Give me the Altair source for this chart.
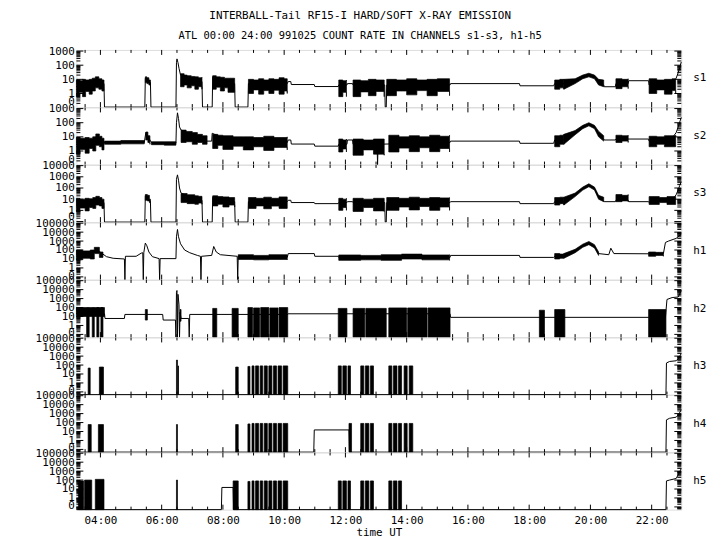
import altair as alt
import pandas as pd

W, H = 610, 57.6
FONT = "DejaVu Sans Mono"

TITLE = "INTERBALL-Tail RF15-I HARD/SOFT X-RAY EMISSION"
SUBTITLE = "ATL 00:00 24:00 991025  COUNT RATE IN CHANNELS s1-s3, h1-h5"
X_DOMAIN = ("03:13", "22:58")
X_LABEL_HOURS = [4, 6, 8, 10, 12, 14, 16, 18, 20, 22]
X_TICK_HOURS = [3.5 + 0.5 * i for i in range(39)]

# ---------------- s1 ----------------
S1_TRACE = [
    ("03:13", 3), ("03:25", 3), ("03:35", 4), ("03:45", 6), ("03:52", 9), ("03:58", 7), ("04:07", 5), ("04:08", 0),
    ("05:27", 0), ("05:28", 12), ("05:31", 12), ("05:35", 8), ("05:38", 6), ("05:39", 0),
    ("06:28", 0), ("06:29", 150), ("06:30", 280), ("06:32", 150), ("06:34", 60), ("06:37", 20), ("06:45", 12),
    ("07:00", 9), ("07:19", 7), ("07:20", 0),
    ("07:39", 0), ("07:40", 15), ("07:50", 8), ("08:10", 6), ("08:23", 5), ("08:24", 0),
    ("08:49", 0), ("08:50", 5), ("09:30", 4), ("10:06", 5), ("10:08", 7), ("10:13", 7), ("10:14", 4.3),
    ("10:59", 4.3), ("11:00", 3.1), ("11:46", 3.1), ("11:47", 4), ("12:03", 4), ("12:04", 5), ("12:14", 5),
    ("12:15", 4), ("13:17", 4), ("13:18", 0), ("13:20", 0), ("13:21", 4), ("15:25", 4), ("15:26", 5),
    ("17:41", 5), ("17:42", 3.5), ("18:48", 3.5), ("18:50", 5), ("19:08", 5), ("19:30", 8), ("19:45", 15),
    ("19:57", 20), ("20:08", 15), ("20:16", 7), ("20:26", 4), ("20:27", 3), ("20:49", 3), ("20:50", 5),
    ("21:14", 5), ("21:15", 8), ("21:54", 8), ("21:55", 4), ("22:40", 5), ("22:48", 12), ("22:52", 30),
    ("22:55", 70), ("22:58", 170),
]
S1_BANDS = [
    [("03:13", 0.6, 9), ("03:19", 1.2, 8), ("03:25", 0.6, 10), ("03:31", 1.4, 9), ("03:38", 0.9, 10), ("03:44", 1.5, 12),
     ("03:50", 2.5, 15), ("03:57", 2, 11), ("04:03", 1.5, 9), ("04:07", 1.5, 9)],
    [("05:28", 6, 15), ("05:31", 5, 13), ("05:35", 4, 9), ("05:38", 4, 9)],
    [("06:37", 3, 25), ("06:44", 4, 20), ("06:50", 2.5, 18), ("06:58", 3.5, 16), ("07:05", 2, 15), ("07:12", 3, 13), ("07:19", 2, 14)],
    [("07:40", 2, 18), ("07:47", 2.8, 15), ("07:55", 1.5, 14), ("08:03", 2.5, 12), ("08:10", 1.2, 12), ("08:23", 1.2, 12)],
    [("08:50", 1, 10), ("09:00", 1.8, 9), ("09:10", 0.9, 11), ("09:20", 1.6, 9), ("09:30", 1, 11), ("09:40", 1.7, 10),
     ("09:50", 0.9, 13), ("10:00", 1.5, 11), ("10:06", 1, 11)],
    [("11:47", 0.6, 9), ("11:55", 1.2, 8), ("12:02", 0.6, 9)],
    [("12:15", 0.6, 9), ("12:30", 1.3, 8), ("12:45", 0.7, 10), ("13:00", 1.4, 9), ("13:16", 0.6, 9)],
    [("13:21", 0.7, 10), ("13:40", 1.5, 9), ("14:00", 0.8, 11), ("14:20", 1.6, 9), ("14:40", 0.7, 10), ("15:00", 1.4, 11),
     ("15:24", 0.7, 10)],
    [("18:50", 2, 9), ("19:00", 2.5, 10), ("19:08", 2, 10)],
    [("20:50", 2.2, 11), ("21:02", 3, 10), ("21:14", 2.2, 11)],
    [("21:55", 1, 11), ("22:10", 1.8, 9), ("22:25", 0.9, 10), ("22:40", 1.6, 11), ("22:47", 1, 11)],
]
S1_HUMP = [("19:08", 2, 10), ("19:30", 5, 11), ("19:45", 11, 20), ("19:57", 15, 27), ("20:08", 11, 20), ("20:16", 4, 10),
           ("20:26", 3, 9)]

# ---------------- s2 ----------------
S2_TRACE = [
    ("03:13", 3), ("03:30", 3), ("03:45", 5), ("03:53", 12), ("04:00", 6), ("04:07", 4), ("04:30", 4), ("05:00", 4.5),
    ("05:26", 4), ("05:29", 20), ("05:32", 14), ("05:37", 6), ("05:40", 4), ("06:00", 3.5), ("06:28", 3.5),
    ("06:29", 100), ("06:31", 500), ("06:33", 200), ("06:35", 50), ("06:38", 30), ("07:00", 15), ("07:20", 8),
    ("07:29", 5), ("07:38", 5), ("07:39", 18), ("08:00", 8), ("08:24", 5), ("08:49", 4), ("10:06", 4), ("10:08", 6),
    ("10:13", 6), ("10:14", 3.1), ("10:59", 3.1), ("11:00", 2.2), ("11:46", 2.2), ("11:47", 3), ("12:03", 3),
    ("12:04", 6), ("12:14", 6), ("12:15", 3), ("13:02", 3), ("13:03", 0), ("13:04", 3), ("15:25", 4), ("15:26", 5),
    ("17:41", 5), ("17:42", 3.5), ("18:48", 3.5), ("18:50", 6), ("19:08", 6), ("19:30", 20), ("19:45", 50),
    ("19:57", 80), ("20:08", 50), ("20:16", 15), ("20:26", 7), ("20:27", 6), ("20:49", 6), ("20:50", 7),
    ("21:54", 7), ("21:55", 5), ("22:40", 8), ("22:48", 20), ("22:52", 50), ("22:55", 110), ("22:58", 240),
]
S2_BANDS = [
    [("03:13", 0.6, 9), ("03:20", 1.3, 8), ("03:30", 0.7, 9), ("03:38", 1.5, 8), ("03:45", 1, 10), ("03:51", 2.5, 16),
     ("03:58", 2, 11), ("04:03", 1.2, 8), ("04:07", 1.2, 8)],
    [("04:08", 3, 5), ("04:40", 3.2, 5.5), ("05:26", 3.2, 5)],
    [("05:29", 6, 22), ("05:33", 4, 12), ("05:37", 3, 8)],
    [("05:40", 2.8, 4.5), ("06:05", 2.6, 4.5), ("06:28", 2.8, 4.5)],
    [("06:38", 4, 30), ("06:48", 4.5, 24), ("07:00", 3, 20), ("07:10", 4, 15), ("07:20", 3, 12), ("07:29", 3, 8)],
    [("07:40", 1.5, 15), ("07:50", 2.5, 13), ("08:00", 1.3, 12), ("08:20", 2.2, 10), ("08:40", 1.2, 10), ("09:00", 2, 9),
     ("09:20", 1.1, 11), ("09:40", 1.8, 9), ("10:06", 1.2, 10)],
    [("11:47", 0.85, 7), ("11:55", 1.4, 6), ("12:02", 0.85, 7)],
    [("12:15", 0.5, 7), ("12:35", 1.2, 6), ("12:55", 0.6, 7), ("13:16", 0.5, 7)],
    [("13:25", 0.85, 13), ("13:45", 1.6, 10), ("14:05", 0.9, 12), ("14:25", 1.7, 10), ("14:45", 0.9, 13), ("15:05", 1.5, 11),
     ("15:24", 0.85, 13)],
    [("18:50", 2, 12), ("19:00", 3, 13), ("19:08", 3, 15)],
    [("20:50", 4, 13), ("21:02", 5, 12), ("21:14", 4, 13)],
    [("21:55", 2, 11), ("22:10", 3, 10), ("22:25", 2, 12), ("22:47", 2, 13)],
]
S2_HUMP = [("19:08", 3, 15), ("19:30", 14, 28), ("19:45", 38, 65), ("19:57", 60, 100), ("20:08", 38, 65), ("20:16", 10, 25),
           ("20:26", 5, 12)]

# ---------------- s3 ----------------
S3_TRACE = [
    ("03:13", 3), ("03:30", 3), ("03:45", 6), ("03:52", 12), ("04:00", 7), ("04:07", 5), ("04:08", 0),
    ("05:27", 0), ("05:28", 20), ("05:31", 18), ("05:35", 10), ("05:38", 6), ("05:39", 0),
    ("06:28", 0), ("06:29", 600), ("06:31", 1500), ("06:33", 500), ("06:35", 100), ("06:38", 35), ("06:50", 20),
    ("07:05", 12), ("07:19", 8), ("07:20", 0), ("07:39", 0), ("07:40", 15), ("08:00", 8), ("08:23", 6), ("08:24", 0),
    ("08:49", 0), ("08:50", 6), ("10:06", 6), ("10:08", 8), ("10:13", 8), ("10:14", 5), ("10:59", 5), ("11:00", 4),
    ("11:46", 4), ("11:47", 5), ("12:03", 5), ("12:04", 6), ("12:14", 6), ("12:15", 5), ("13:17", 5), ("13:18", 0),
    ("13:20", 0), ("13:21", 5), ("15:25", 5), ("15:26", 6), ("17:41", 6), ("17:42", 4), ("18:48", 4), ("18:50", 6),
    ("19:08", 6), ("19:30", 25), ("19:45", 90), ("19:57", 180), ("20:08", 90), ("20:16", 15), ("20:26", 7),
    ("20:27", 6), ("20:49", 6), ("20:50", 8), ("21:14", 8), ("21:15", 6), ("21:54", 6), ("21:55", 5), ("22:40", 8),
    ("22:48", 25), ("22:52", 70), ("22:55", 170), ("22:58", 370),
]
S3_BANDS = [
    [("03:13", 0.8, 12), ("03:20", 1.6, 10), ("03:30", 0.9, 12), ("03:38", 1.8, 11), ("03:45", 1.5, 14), ("03:51", 3, 18),
     ("03:58", 2.5, 14), ("04:03", 1.5, 10), ("04:07", 1.5, 10)],
    [("05:28", 8, 26), ("05:32", 7, 22), ("05:36", 5, 10), ("05:38", 5, 10)],
    [("06:38", 5, 32), ("06:50", 4, 25), ("07:05", 3.5, 20), ("07:12", 4.5, 18), ("07:19", 3.5, 17)],
    [("07:40", 2.5, 20), ("07:50", 3.5, 17), ("08:00", 2, 16), ("08:12", 3, 14), ("08:23", 2, 14)],
    [("08:50", 1.5, 14), ("09:05", 2.5, 12), ("09:20", 1.4, 15), ("09:35", 2.4, 12), ("09:50", 1.5, 16), ("10:06", 1.5, 14)],
    [("11:47", 1, 12), ("11:55", 1.8, 10), ("12:02", 1, 12)],
    [("12:15", 0.8, 12), ("12:35", 1.8, 10), ("12:55", 0.9, 12), ("13:16", 0.8, 12)],
    [("13:21", 1, 14), ("13:45", 2, 12), ("14:05", 1.1, 15), ("14:25", 2.2, 12), ("14:45", 1, 14), ("15:05", 2, 13),
     ("15:24", 1, 14)],
    [("18:50", 3, 14), ("19:00", 4, 15), ("19:08", 3, 15)],
    [("20:50", 6, 26), ("21:02", 7, 22), ("21:14", 6, 26)],
    [("21:55", 3.4, 17), ("22:15", 5, 14), ("22:30", 3.4, 17), ("22:47", 3.4, 17)],
]
S3_HUMP = [("19:08", 3, 15), ("19:30", 17, 35), ("19:45", 65, 120), ("19:57", 130, 240), ("20:08", 65, 120),
           ("20:16", 10, 22), ("20:26", 6, 15)]

# ---------------- h1 ----------------
H1_TRACE = [
    ("03:13", 30), ("03:20", 50), ("03:30", 30), ("03:40", 40), ("03:48", 80), ("03:53", 150), ("03:58", 70),
    ("04:05", 35), ("04:12", 18), ("04:25", 12), ("04:47", 10), ("04:48", 0), ("04:49", 20), ("05:10", 20),
    ("05:20", 45), ("05:23", 50), ("05:24", 0), ("05:25", 50), ("05:28", 600), ("05:31", 300), ("05:35", 60),
    ("05:42", 18), ("05:55", 11), ("05:56", 0), ("05:57", 11), ("06:28", 11), ("06:29", 3000), ("06:31", 20000),
    ("06:33", 3000), ("06:37", 500), ("06:45", 100), ("06:55", 50), ("07:10", 25), ("07:16", 20), ("07:17", 0),
    ("07:18", 20), ("07:38", 25), ("07:42", 250), ("07:47", 60), ("07:55", 30), ("08:28", 20), ("08:29", 0),
    ("08:30", 20), ("09:00", 15), ("10:06", 15), ("10:08", 40), ("10:59", 40), ("11:00", 20), ("11:46", 20),
    ("11:47", 15), ("13:00", 15), ("14:00", 20), ("15:25", 15), ("15:26", 25), ("17:41", 25), ("17:42", 15),
    ("18:48", 15), ("18:50", 20), ("19:08", 20), ("19:30", 80), ("19:45", 300), ("19:57", 600), ("20:08", 250),
    ("20:16", 40), ("20:36", 30), ("20:40", 160), ("20:46", 40), ("21:54", 38), ("22:23", 40), ("22:27", 700),
    ("22:33", 1000), ("22:48", 2000), ("22:58", 6000),
]
H1_BANDS = [
    [("03:13", 8, 100), ("03:25", 12, 80), ("03:40", 10, 100), ("03:48", 40, 200), ("03:58", 15, 60), ("04:05", 15, 60)],
    [("08:30", 9, 30), ("09:00", 8, 25), ("09:30", 9, 30), ("10:06", 8, 30)],
    [("11:47", 7, 28), ("12:30", 8, 25), ("13:10", 7, 30), ("13:50", 10, 35), ("14:30", 8, 28), ("15:24", 7, 30)],
    [("18:50", 10, 40), ("19:00", 12, 35), ("19:08", 12, 40)],
    [("21:54", 20, 60), ("22:08", 25, 55), ("22:23", 20, 60)],
]
H1_HUMP = [("19:08", 12, 40), ("19:30", 50, 120), ("19:45", 200, 450), ("19:57", 400, 900), ("20:08", 170, 400),
           ("20:16", 25, 60)]

# ---------------- h2 ----------------
H2_TRACE = [
    ("03:13", 20), ("04:08", 20), ("04:09", 6), ("04:47", 6), ("04:48", 17), ("06:02", 17), ("06:03", 4),
    ("06:27", 4), ("06:28", 0), ("06:29", 5000), ("06:30", 8000), ("06:31", 0), ("06:32", 3000), ("06:34", 200),
    ("06:35", 0), ("06:36", 30), ("06:38", 6), ("06:53", 6), ("06:54", 0), ("06:55", 17), ("10:07", 17),
    ("10:08", 20), ("15:25", 20), ("15:26", 8), ("21:54", 8), ("22:27", 8), ("22:30", 800), ("22:40", 1300),
    ("22:52", 1500), ("22:58", 8000),
]
H2_BARS = [
    ("03:13", "04:08", 10, 100),
    ("03:33", "03:38", 0, 90), ("03:44", "03:48", 0, 90), ("03:53", "03:57", 0, 100), ("04:01", "04:05", 0, 100),
    ("05:28", "05:32", 4, 60), ("06:36", "06:38", 3, 60),
    ("07:40", "07:48", 0, 80), ("08:18", "08:30", 0, 80),
    ("08:49", "08:58", 0, 100), ("09:00", "09:12", 0, 90), ("09:14", "09:30", 0, 100), ("09:32", "09:48", 0, 90),
    ("09:50", "10:07", 0, 100),
    ("11:46", "12:03", 0, 80), ("12:15", "12:38", 0, 80), ("12:40", "13:20", 0, 80),
    ("13:25", "14:00", 0, 90), ("14:02", "14:40", 0, 90), ("14:42", "15:25", 0, 90),
    ("18:20", "18:30", 0, 50), ("18:50", "19:10", 0, 60), ("21:54", "22:28", 0, 60),
]

# ---------------- h3 ----------------
H3_TRACE = [("03:13", 0), ("22:28", 0), ("22:29", 170), ("22:35", 250), ("22:48", 300), ("22:53", 600), ("22:58", 2000)]
H3_BARS = [
    ("03:36", "03:40", 0, 46), ("03:58", "04:06", 0, 60), ("06:29", "06:31", 0, 360), ("06:32", "06:33", 0, 80),
    ("08:25", "08:30", 0, 60),
    ("08:49", "08:53", 0, 70), ("08:57", "09:01", 0, 80), ("09:04", "09:10", 0, 80), ("09:13", "09:18", 0, 80),
    ("09:21", "09:27", 0, 80), ("09:30", "09:36", 0, 80), ("09:39", "09:45", 0, 80), ("09:48", "09:55", 0, 80),
    ("09:58", "10:07", 0, 80),
    ("11:46", "11:52", 0, 80), ("11:55", "12:02", 0, 80), ("12:05", "12:10", 0, 80),
    ("12:30", "12:36", 0, 80), ("12:39", "12:46", 0, 80), ("12:49", "12:55", 0, 80),
    ("13:25", "13:31", 0, 80), ("13:34", "13:41", 0, 80), ("13:44", "13:50", 0, 80),
    ("13:55", "14:01", 0, 80), ("14:05", "14:12", 0, 80),
]

# ---------------- h4 ----------------
H4_TRACE = [("03:13", 0), ("10:58", 0), ("10:59", 15), ("12:07", 15), ("12:08", 0), ("22:28", 0), ("22:29", 200),
            ("22:35", 300), ("22:48", 400), ("22:53", 800), ("22:58", 2800)]
H4_BARS = [
    ("03:36", "03:42", 0, 60), ("03:56", "04:06", 0, 60), ("06:29", "06:31", 0, 60),
    ("08:25", "08:30", 0, 60),
    ("08:49", "08:53", 0, 70), ("08:57", "09:01", 0, 80), ("09:04", "09:10", 0, 80), ("09:13", "09:18", 0, 80),
    ("09:21", "09:27", 0, 80), ("09:30", "09:36", 0, 80), ("09:39", "09:45", 0, 80), ("09:48", "09:55", 0, 80),
    ("09:58", "10:07", 0, 80),
    ("12:07", "12:12", 0, 80),
    ("12:30", "12:36", 0, 80), ("12:39", "12:46", 0, 80), ("12:49", "12:55", 0, 80),
    ("13:25", "13:31", 0, 80), ("13:34", "13:41", 0, 80), ("13:44", "13:50", 0, 80),
    ("13:55", "14:01", 0, 80), ("14:05", "14:12", 0, 80),
]

# ---------------- h5 ----------------
H5_TRACE = [("03:13", 0), ("07:57", 0), ("07:58", 15), ("08:20", 15), ("08:21", 0), ("22:28", 0), ("22:29", 80),
            ("22:35", 100), ("22:48", 150), ("22:53", 500), ("22:58", 2000)]
H5_BARS = [
    ("03:17", "03:27", 0, 80), ("03:29", "03:43", 0, 100), ("03:50", "04:07", 0, 120), ("06:29", "06:31", 0, 100),
    ("08:20", "08:30", 0, 80),
    ("08:49", "08:53", 0, 70), ("08:57", "09:01", 0, 80), ("09:04", "09:10", 0, 80), ("09:13", "09:18", 0, 80),
    ("09:21", "09:27", 0, 80), ("09:30", "09:36", 0, 80), ("09:39", "09:45", 0, 80), ("09:48", "09:55", 0, 80),
    ("09:58", "10:07", 0, 80),
    ("11:46", "11:52", 0, 80), ("11:55", "12:02", 0, 80), ("12:05", "12:10", 0, 80),
    ("12:30", "12:36", 0, 80), ("12:39", "12:46", 0, 80), ("12:49", "12:55", 0, 80),
    ("13:25", "13:31", 0, 80), ("13:34", "13:41", 0, 80), ("13:44", "13:50", 0, 80),
]

S_DOM = (0.11, 1200)
S3_DOM = (0.09, 11500)
H_DOM = (0.05, 120000)
S_LABELS = [0.25, 1, 10, 100, 1000]
S3_LABELS = [0.3, 1, 10, 100, 1000, 10000]
H_LABELS = [0.15, 1, 10, 100, 1000, 10000, 100000]

PANELS = [
    ("s1", S_DOM, S_LABELS, S1_TRACE, S1_BANDS, [], S1_HUMP),
    ("s2", S_DOM, S_LABELS, S2_TRACE, S2_BANDS, [], S2_HUMP),
    ("s3", S3_DOM, S3_LABELS, S3_TRACE, S3_BANDS, [], S3_HUMP),
    ("h1", H_DOM, H_LABELS, H1_TRACE, H1_BANDS, [], H1_HUMP),
    ("h2", H_DOM, H_LABELS, H2_TRACE, [], H2_BARS, []),
    ("h3", H_DOM, H_LABELS, H3_TRACE, [], H3_BARS, []),
    ("h4", H_DOM, H_LABELS, H4_TRACE, [], H4_BARS, []),
    ("h5", H_DOM, H_LABELS, H5_TRACE, [], H5_BARS, []),
]


def hours(s):
    hh, mm = s.split(":")
    return int(hh) + int(mm) / 60.0


xs = alt.Scale(domain=[hours(X_DOMAIN[0]), hours(X_DOMAIN[1])], nice=False, zero=False)
xt_df = pd.DataFrame({"t": X_TICK_HOURS, "major": [float(v) % 2 == 0 for v in X_TICK_HOURS]})


def make_panel(idx, name, dom, labels, trace, bands, bars, hump):
    dmin, dmax = dom
    ys = alt.Scale(type="log", domain=[dmin, dmax], nice=False, clamp=True)
    yaxis = alt.Axis(values=labels, labelExpr="datum.value < 0.9 ? '0' : format(datum.value, 'd')",
                     ticks=False, domain=False, grid=False, labelOverlap=False, labelFlush=False,
                     labelFont=FONT, labelFontSize=11, labelColor="black", labelPadding=2,
                     minExtent=63, maxExtent=63, title=None)
    last = idx == len(PANELS) - 1
    if last:
        xaxis = alt.Axis(values=X_LABEL_HOURS,
                         labelExpr="(datum.value < 10 ? '0' : '') + datum.value + ':00'",
                         ticks=False, domain=False, grid=False, labelFont=FONT, labelFontSize=11,
                         labelColor="black", labelPadding=5, labelFlush=False, title="time UT",
                         titleFont=FONT, titleFontSize=11, titleFontWeight="normal", titleColor="black",
                         titlePadding=1)
    else:
        xaxis = None

    def X():
        return alt.X("t:Q", scale=xs, axis=xaxis)

    def Y(field):
        return alt.Y(field, scale=ys, axis=yaxis)

    tdf = pd.DataFrame({"t": [hours(a) for a, _ in trace], "v": [max(b, dmin) for _, b in trace]})
    rows = []
    seg = 0
    for s in bands:
        for t, lo, hi in s:
            rows.append({"t": hours(t), "lo": max(lo, dmin), "hi": max(hi, dmin), "seg": seg})
        seg += 1
    for t0, t1, lo, hi in bars:
        for t in (t0, t1):
            rows.append({"t": hours(t), "lo": max(lo, dmin), "hi": max(hi, dmin), "seg": seg})
        seg += 1
    bdf = pd.DataFrame(rows)

    ticks = []
    for n in range(-2, 6):
        for k in range(1, 10):
            v = k * 10.0 ** n
            if dmin < v < dmax:
                ticks.append({"yv": v, "major": k == 1})
    ydf = pd.DataFrame(ticks)

    layers = []
    band = alt.Chart(bdf).mark_area(color="black", stroke="black", strokeWidth=0.7, orient="vertical",
                                     interpolate="step-after").encode(
        x=X(), y=Y("lo:Q"), y2="hi:Q", detail="seg:N")
    layers.append(band)
    if hump:
        hdf = pd.DataFrame({"t": [hours(a) for a, _, _ in hump], "lo": [b for _, b, _ in hump],
                            "hi": [c for _, _, c in hump]})
        layers.append(alt.Chart(hdf).mark_area(color="black", stroke="black", strokeWidth=0.7, orient="vertical",
                                               interpolate="linear").encode(x=X(), y=Y("lo:Q"), y2="hi:Q"))
    line = alt.Chart(tdf).mark_line(color="black", strokeWidth=1, interpolate="linear").encode(
        x=X(), y=Y("v:Q"))
    layers.append(line)

    for major, ln in ((True, 7), (False, 4)):
        sub = ydf[ydf["major"] == major]
        base = alt.Chart(sub).mark_rule(color="black", strokeWidth=1)
        layers.append(base.encode(x=alt.value(0), x2=alt.value(ln), y=Y("yv:Q")))
        layers.append(base.encode(x=alt.value(W - ln), x2=alt.value(W), y=Y("yv:Q")))

    for major, ln in ((True, 5), (False, 3)):
        sub = xt_df[xt_df["major"] == major]
        base = alt.Chart(sub).mark_rule(color="black", strokeWidth=1)
        layers.append(base.encode(x=X(), y=alt.value(0), y2=alt.value(ln)))
        layers.append(base.encode(x=X(), y=alt.value(H - ln), y2=alt.value(H)))

    lab = alt.Chart(pd.DataFrame({"lab": [name]})).mark_text(
        align="left", baseline="middle", font=FONT, fontSize=11, color="black").encode(
        x=alt.value(W + 12), y=alt.value(H / 2), text="lab:N")
    layers.append(lab)
    return alt.layer(*layers).properties(width=W, height=H)


panels = [make_panel(i, *p) for i, p in enumerate(PANELS)]

chart = alt.vconcat(*panels, spacing=0, bounds="flush").properties(
    title=alt.TitleParams(text=TITLE, subtitle=SUBTITLE, font=FONT, fontSize=11, fontWeight="normal",
                          subtitleFont=FONT, subtitleFontSize=10.5, subtitlePadding=10, anchor="middle",
                          offset=3, color="black", subtitleColor="black"),
    padding={"left": 5, "top": 0, "right": 5, "bottom": 5},
).configure_view(stroke="black", strokeWidth=1).configure(background="white")

chart.save("out.html", embed_options={"renderer": "svg", "actions": False})
